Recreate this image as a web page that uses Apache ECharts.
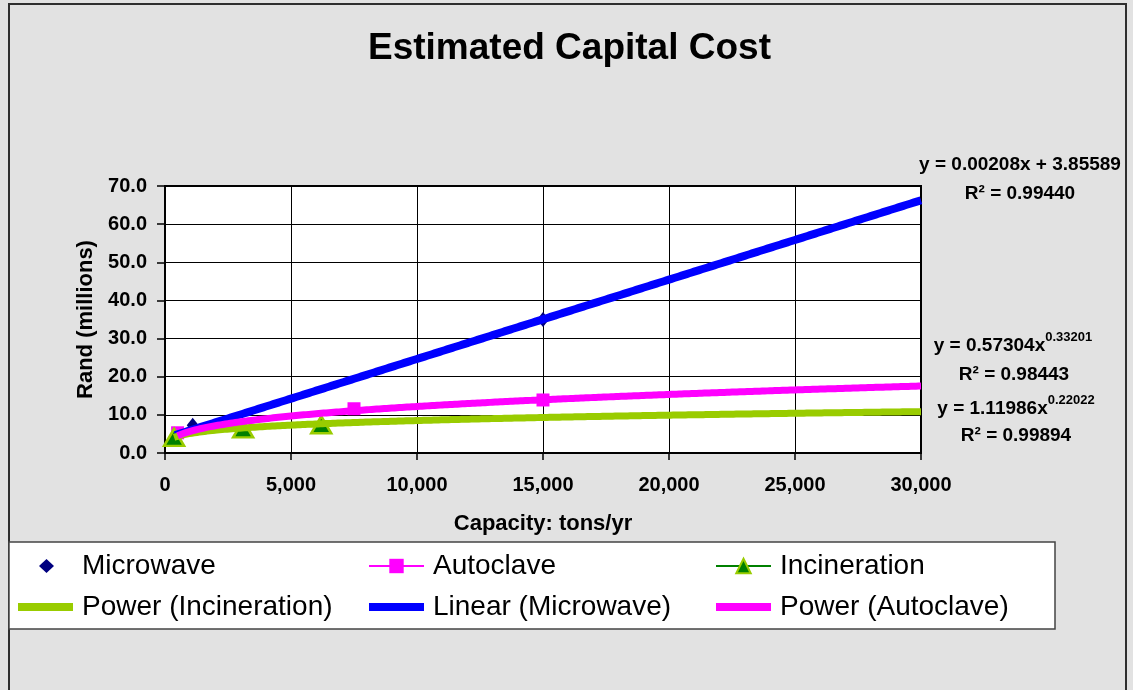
<!DOCTYPE html>
<html>
<head>
<meta charset="utf-8">
<title>Estimated Capital Cost</title>
<script src="https://cdn.jsdelivr.net/npm/echarts@6/dist/echarts.min.js"></script>
<style>
  html, body { margin: 0; padding: 0; background: #e2e2e2; }
  #chart { width: 1133px; height: 690px; }
</style>
</head>
<body>
<div id="chart"></div>
<script>
// ---- Measured plant costs (capacity in tons/yr, cost in Rand millions) ----
const microwaveX    = [400, 1100, 15000];
const microwaveY    = [4.4, 7.3, 35.0];
const autoclaveX    = [500, 7500, 15000];
const autoclaveY    = [5.3, 11.6, 13.9];
const incinerationX = [360, 3100, 6200];
const incinerationY = [4.1, 6.3, 7.4];

// ---- Fitted trendlines (as reported on the chart) ----
const linearMicrowave    = [0.00208, 3.85589];   // slope, intercept
const linearMicrowaveR2  = 0.99440;
const powerAutoclave     = [0.57304, 0.33201];   // coefficient, exponent
const powerAutoclaveR2   = 0.98443;
const powerIncineration  = [1.11986, 0.22022];   // coefficient, exponent
const powerIncinerationR2 = 0.99894;
const forecastTo = 30000;

// ---- Axis ticks ----
const xTickValues = [0, 5000, 10000, 15000, 20000, 25000, 30000];
const xTickLabels = ['0', '5,000', '10,000', '15,000', '20,000', '25,000', '30,000'];
const yTickValues = [0, 10, 20, 30, 40, 50, 60, 70];
const yTickLabels = ['0.0', '10.0', '20.0', '30.0', '40.0', '50.0', '60.0', '70.0'];

const FONT = "'Liberation Sans', Arial, Helvetica, sans-serif";

function pairs(xs, ys) { return xs.map((x, i) => [x, ys[i]]); }

// Sample a fitted curve from the smallest observed capacity out to the forecast limit
function curve(xs, fn) {
  const pts = [];
  for (let x = Math.min(...xs); x < forecastTo; x += 100) pts.push([x, fn(x)]);
  pts.push([forecastTo, fn(forecastTo)]);
  return pts;
}
const linFn = x => linearMicrowave[0] * x + linearMicrowave[1];
const powAutoFn = x => powerAutoclave[0] * Math.pow(x, powerAutoclave[1]);
const powIncFn = x => powerIncineration[0] * Math.pow(x, powerIncineration[1]);

const f5 = v => v.toFixed(5);

// Legend glyphs: a thick bar for fitted lines, and a small diamond padded out to the
// full icon width (zero-length end points) so it is not stretched horizontally.
const barIcon = 'path://M0,0L55,0L55,8L0,8Z';
const diamondIcon = 'path://M0,7L0,7M28.5,0L36,7L28.5,14L21,7ZM55,7L55,7';

const chart = echarts.init(document.getElementById('chart'), null, { renderer: 'canvas' });

const eqRich = {
  m: { fontSize: 19, fontWeight: 'bold', fontFamily: FONT, color: '#000', lineHeight: 30, verticalAlign: 'middle' },
  e: { fontSize: 13, fontWeight: 'bold', fontFamily: FONT, color: '#000', lineHeight: 13, verticalAlign: 'top' }
};
function eqText(x, y, text) {
  return {
    type: 'text', x: x, y: y, z: 10, silent: true,
    style: {
      text: text, rich: eqRich, fill: '#000',
      font: 'bold 19px ' + FONT,
      align: 'center', verticalAlign: 'middle',
      textAlign: 'center', textVerticalAlign: 'middle'
    }
  };
}

const legendBase = {
  orient: 'vertical',
  top: 552,
  padding: 0,
  itemGap: 13,
  itemWidth: 55,
  itemHeight: 18,
  selectedMode: false,
  textStyle: { fontSize: 28, fontFamily: FONT, color: '#000', padding: [0, 0, 0, 4] }
};

const option = {
  backgroundColor: '#e2e2e2',
  animation: false,
  title: {
    text: 'Estimated Capital Cost',
    left: 368,
    top: 30,
    padding: 0,
    textStyle: { fontSize: 37, fontWeight: 'bold', fontFamily: FONT, color: '#000' }
  },
  legend: [
    Object.assign({}, legendBase, {
      left: 18,
      data: [
        { name: 'Microwave', icon: diamondIcon },
        { name: 'Power (Incineration)', icon: barIcon }
      ]
    }),
    Object.assign({}, legendBase, {
      left: 368,
      data: [
        { name: 'Autoclave' },
        { name: 'Linear (Microwave)', icon: barIcon }
      ]
    }),
    Object.assign({}, legendBase, {
      left: 715,
      data: [
        { name: 'Incineration' },
        { name: 'Power (Autoclave)', icon: barIcon }
      ]
    })
  ],
  grid: {
    left: 165, top: 186, width: 756, height: 267,
    show: true, backgroundColor: '#ffffff',
    borderColor: '#000', borderWidth: 2,
    containLabel: false
  },
  xAxis: {
    type: 'value', min: 0, max: 30000, interval: 5000,
    name: 'Capacity: tons/yr', nameLocation: 'middle', nameGap: 60,
    nameTextStyle: { fontSize: 22, fontWeight: 'bold', fontFamily: FONT, color: '#000' },
    axisLine: { show: true, lineStyle: { color: '#000', width: 2 } },
    axisTick: { show: true, inside: false, length: 7, lineStyle: { color: '#000', width: 1.5 } },
    splitLine: { show: true, lineStyle: { color: '#000', width: 1 } },
    axisLabel: {
      margin: 22, fontSize: 20, fontWeight: 'bold', fontFamily: FONT, color: '#000',
      formatter: v => xTickLabels[xTickValues.indexOf(v)]
    }
  },
  yAxis: {
    type: 'value', min: 0, max: 70, interval: 10,
    name: 'Rand (millions)', nameLocation: 'middle', nameGap: 68, nameRotate: 90,
    nameTextStyle: { fontSize: 22, fontWeight: 'bold', fontFamily: FONT, color: '#000' },
    axisLine: { show: true, lineStyle: { color: '#000', width: 2 } },
    axisTick: { show: true, inside: false, length: 8, lineStyle: { color: '#000', width: 1.5 } },
    splitLine: { show: true, lineStyle: { color: '#000', width: 1 } },
    axisLabel: {
      margin: 18, fontSize: 20, fontWeight: 'bold', fontFamily: FONT, color: '#000',
      formatter: v => yTickLabels[yTickValues.indexOf(v)]
    }
  },
  graphic: [
    // outer chart frame
    {
      type: 'rect', z: 0, silent: true,
      shape: { x: 9, y: 4, width: 1117, height: 700 },
      style: { fill: 'none', stroke: '#2e2e2e', lineWidth: 2 }
    },
    // legend box
    {
      type: 'rect', z: 1, silent: true,
      shape: { x: 9, y: 542, width: 1046, height: 87 },
      style: { fill: '#ffffff', stroke: '#444', lineWidth: 1.5 }
    },
    eqText(1020, 165, '{m|y = ' + f5(linearMicrowave[0]) + 'x + ' + f5(linearMicrowave[1]) + '}'),
    eqText(1020, 194, '{m|R² = ' + f5(linearMicrowaveR2) + '}'),
    eqText(1013, 346, '{m|y = ' + f5(powerAutoclave[0]) + 'x}{e|' + f5(powerAutoclave[1]) + '}'),
    eqText(1014, 375, '{m|R² = ' + f5(powerAutoclaveR2) + '}'),
    eqText(1016, 409, '{m|y = ' + f5(powerIncineration[0]) + 'x}{e|' + f5(powerIncineration[1]) + '}'),
    eqText(1016, 436, '{m|R² = ' + f5(powerIncinerationR2) + '}')
  ],
  series: [
    {
      name: 'Microwave', type: 'scatter', z: 3,
      symbol: 'diamond', symbolSize: [12, 15],
      itemStyle: { color: '#000080', opacity: 1 },
      data: pairs(microwaveX, microwaveY)
    },
    {
      name: 'Autoclave', type: 'line', z: 3,
      symbol: 'rect', symbolSize: 13, showSymbol: true,
      itemStyle: { color: '#ff00ff' },
      lineStyle: { color: '#ff00ff', width: 1 },
      data: pairs(autoclaveX, autoclaveY)
    },
    {
      name: 'Incineration', type: 'line', z: 3,
      symbol: 'triangle', symbolSize: [20, 17], showSymbol: true,
      itemStyle: { color: '#008000', borderColor: '#99cc00', borderWidth: 2.5 },
      lineStyle: { color: '#008000', width: 1.5 },
      data: pairs(incinerationX, incinerationY)
    },
    {
      name: 'Power (Incineration)', type: 'line', z: 5,
      symbol: 'none', showSymbol: false,
      itemStyle: { color: '#99cc00' },
      lineStyle: { color: '#99cc00', width: 7 },
      data: curve(incinerationX, powIncFn)
    },
    {
      name: 'Linear (Microwave)', type: 'line', z: 4,
      symbol: 'none', showSymbol: false,
      itemStyle: { color: '#0000ff' },
      lineStyle: { color: '#0000ff', width: 8 },
      data: curve(microwaveX, linFn)
    },
    {
      name: 'Power (Autoclave)', type: 'line', z: 6,
      symbol: 'none', showSymbol: false,
      itemStyle: { color: '#ff00ff' },
      lineStyle: { color: '#ff00ff', width: 7 },
      data: curve(autoclaveX, powAutoFn)
    }
  ]
};

chart.setOption(option);
</script>
</body>
</html>
